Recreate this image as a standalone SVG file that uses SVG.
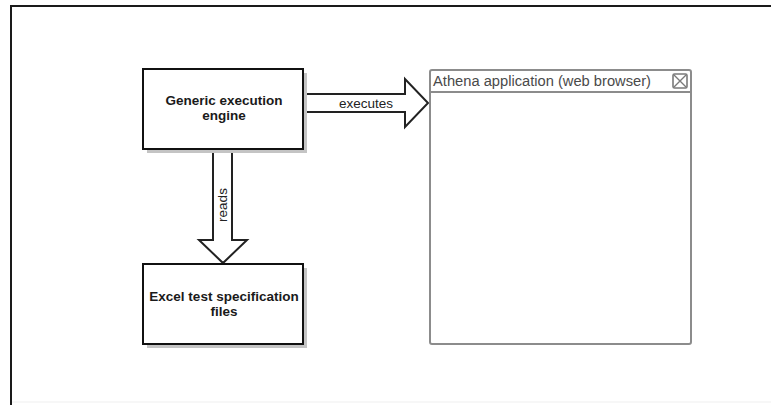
<svg xmlns="http://www.w3.org/2000/svg" width="771" height="405" viewBox="0 0 771 405">
<style>
.box{fill:#fff;stroke:#111;stroke-width:2}
.shadow{fill:#c4c4c4}
.lbl{font-family:"Liberation Sans",Arial,sans-serif;font-size:13.5px;font-weight:bold;fill:#1a1a1a;text-anchor:middle}
.elbl{font-family:"Liberation Sans",Arial,sans-serif;font-size:13.5px;fill:#222;text-anchor:middle}
.arrow{fill:#fff;stroke:#222;stroke-width:2;stroke-linejoin:miter}
.win{fill:#fff;stroke:#8c8c8c;stroke-width:2}
.title{font-family:"Liberation Sans",Arial,sans-serif;font-size:14.7px;fill:#4a4a4a}
</style>
<rect x="0" y="0" width="771" height="405" fill="#fff"/>
<g id="frame">
<path d="M11,405 V6 H771" fill="none" stroke="#1a1a1a" stroke-width="2"/>
<line x1="12" y1="402" x2="771" y2="402" stroke="#efefef" stroke-width="1"/>
</g>
<g id="connectors">
<g id="edge-executes">
<path class="arrow" d="M303,94 H405 V79 L428,103 L405,127 V112 H303"/>
<text class="elbl" x="366" y="108">executes</text>
</g>
<g id="edge-reads">
<path class="arrow" d="M213,150 V240 H199 L223,263 L247,240 H232 V150"/>
<text class="elbl" x="227" y="205" font-size="13" transform="rotate(-90 227 205)">reads</text>
</g>
</g>
<g id="engine">
<rect class="shadow" x="147" y="73" width="160" height="80"/>
<rect class="box" x="143" y="69" width="160" height="80"/>
<text class="lbl" x="224" y="105">Generic execution</text>
<text class="lbl" x="224" y="120">engine</text>
</g>
<g id="excel">
<rect class="shadow" x="147" y="268" width="160" height="80"/>
<rect class="box" x="143" y="264" width="160" height="80"/>
<text class="lbl" x="224" y="301">Excel test specification</text>
<text class="lbl" x="224" y="316">files</text>
</g>
<g id="athena">
<rect class="win" x="430" y="70" width="261" height="274" rx="2"/>
<line x1="430" y1="92" x2="691" y2="92" stroke="#8c8c8c" stroke-width="2"/>
<text class="title" x="433" y="86">Athena application (web browser)</text>
<rect x="673" y="74" width="14" height="14" fill="#fff" stroke="#7a7a7a" stroke-width="1.6" rx="1.5"/>
<path d="M674,75 L686,87 M686,75 L674,87" stroke="#7a7a7a" stroke-width="1.4"/>
</g>
</svg>
